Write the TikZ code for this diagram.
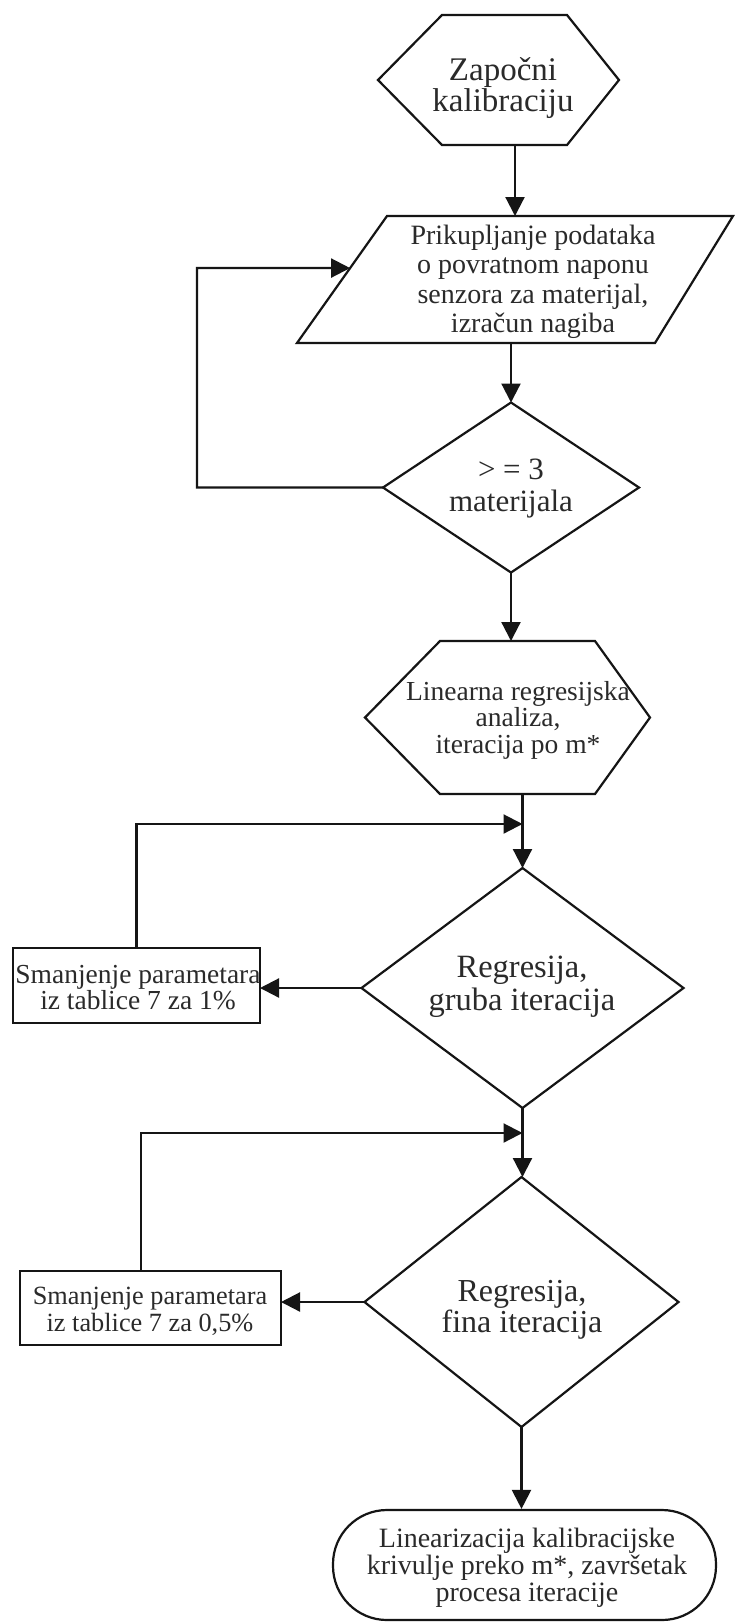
\documentclass[tikz,border=0pt]{standalone}
\usepackage{fontspec}
\setmainfont{Liberation Serif}
\usetikzlibrary{shapes.geometric,arrows.meta,calc}
\definecolor{ink}{HTML}{151515}
\definecolor{txt}{HTML}{2A2A2A}
\begin{document}
\begin{tikzpicture}[x=1pt,y=-1pt,
  outline/.style={draw=ink, line width=2.2pt, line join=miter},
  frame/.style={inner sep=0pt, outer sep=0pt},
  dia/.style={diamond, outline, inner sep=0pt, outer sep=0pt},
  boxnode/.style={rectangle, outline, inner sep=0pt, outer sep=0pt},
  txtnode/.style={inner sep=0pt, align=center, text=txt},
  arr/.style={draw=ink, line width=2.2pt, -{Triangle[length=19pt,width=19pt]}}]
\fill[white] (0,0) rectangle (736,1623);
\useasboundingbox (0,0) rectangle (736,1623);

% start hexagon
\node[frame, minimum width=125pt, minimum height=130pt] (start) at (504.5,80) {};
\draw[outline] (start.north west) -- (start.north east) -- ([xshift=52pt]start.east)
  -- (start.south east) -- (start.south west) -- ([xshift=-64pt]start.west) -- cycle;
\node[txtnode, font=\fontsize{33}{28}\selectfont] (start-t) at (503,88) {Započni\\kalibraciju};

% parallelogram
\node[frame, minimum width=436pt, minimum height=127pt] (para) at (515,279.5) {};
\coordinate (ptl) at ([xshift=90pt]para.north west);
\coordinate (pbr) at ([xshift=-78pt]para.south east);
\draw[outline] (ptl) -- (para.north east) -- (pbr) -- (para.south west) -- cycle;
\node[txtnode, font=\fontsize{28}{29.5}\selectfont] (para-t) at (533,282)
  {Prikupljanje podataka\\o povratnom naponu\\senzora za materijal,\\izračun nagiba};

% decision 1
\node[dia, minimum width=256pt, minimum height=170pt] (d1) at (511,487.5) {};
\node[txtnode, font=\fontsize{31}{32}\selectfont] (d1-t) at (511,489) {> = 3\\materijala};

% hexagon 2
\node[frame, minimum width=155pt, minimum height=153pt] (lin) at (517.5,717.5) {};
\draw[outline] (lin.north west) -- (lin.north east) -- ([xshift=55pt]lin.east)
  -- (lin.south east) -- (lin.south west) -- ([xshift=-75pt]lin.west) -- cycle;
\node[txtnode, font=\fontsize{27.5}{26.5}\selectfont] (lin-t) at (518,720)
  {Linearna regresijska\\analiza,\\iteracija po m*};

% decision 2
\node[dia, minimum width=322pt, minimum height=240pt] (d2) at (522.5,988) {};
\node[txtnode, font=\fontsize{32.5}{33}\selectfont] (d2-t) at (522,987) {Regresija,\\gruba iteracija};

% box 1
\node[boxnode, minimum width=247pt, minimum height=75pt] (b1) at (136.5,985.5) {};
\node[txtnode, font=\fontsize{27.5}{26}\selectfont] (b1-t) at (138,988)
  {Smanjenje parametara\\iz tablice 7 za 1\%};

% decision 3
\node[dia, minimum width=314pt, minimum height=250pt] (d3) at (521.5,1302) {};
\node[txtnode, font=\fontsize{32}{29}\selectfont] (d3-t) at (522,1310) {Regresija,\\fina iteracija};

% box 2
\node[boxnode, minimum width=261pt, minimum height=74pt] (b2) at (150.5,1308) {};
\node[txtnode, font=\fontsize{26.3}{27}\selectfont] (b2-t) at (150,1311)
  {Smanjenje parametara\\iz tablice 7 za 0,5\%};

% terminal
\node[outline, rounded corners=54pt, minimum width=383pt, minimum height=110pt, inner sep=0pt] (term) at (524.5,1565) {};
\node[txtnode, font=\fontsize{28}{27}\selectfont] (term-t) at (527,1568)
  {Linearizacija kalibracijske\\krivulje preko m*, završetak\\procesa iteracije};

% helper coordinates
\coordinate (c1) at (197,268);
\coordinate (pin) at ($(para.south west)!0.59!(ptl)$);
\coordinate (j1) at (522.5,824);
\coordinate (j2) at (522.5,1133);

% connectors
\draw[arr] (start.south -| para.north) -- (para.north);
\draw[arr] (para.south -| d1.north) -- (d1.north);
\draw[arr] (d1.west) -| (c1) -- (pin);
\draw[arr] (d1.south) -- (d1.south |- lin.north);
\draw[arr] (lin.south -| d2.north) -- (d2.north);
\draw[arr] (b1.north) |- (j1);
\draw[arr] (d2.west) -- (d2.west -| b1.east);
\draw[arr] (d2.south) -- (d2.south |- d3.north);
\draw[arr] ([xshift=-9.5pt]b2.north) |- (j2);
\draw[arr] (d3.west) -- (d3.west -| b2.east);
\draw[arr] (d3.south) -- (d3.south |- term.north);
\end{tikzpicture}
\end{document}
